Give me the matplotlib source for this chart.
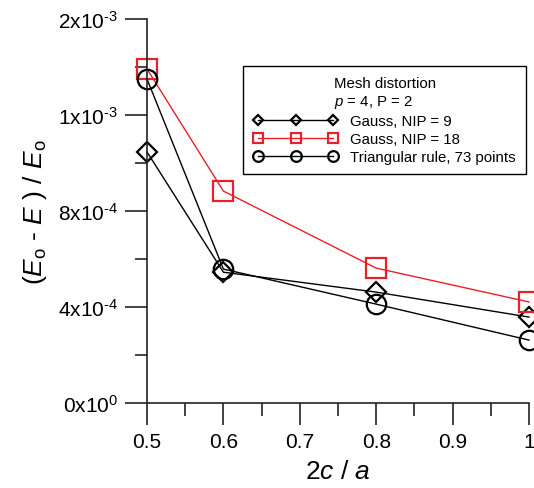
import matplotlib
matplotlib.use("Agg")
import matplotlib.pyplot as plt
from matplotlib.ticker import FixedLocator, FixedFormatter

plt.rcParams["font.family"] = "Liberation Sans"
plt.rcParams["mathtext.fontset"] = "custom"
plt.rcParams["mathtext.rm"] = "Liberation Sans"
plt.rcParams["mathtext.it"] = "Liberation Sans:italic"

# data
ratio = [0.5, 0.6, 0.8, 1.0]
gauss9 = [1.046e-3, 5.45e-4, 4.62e-4, 3.58e-4]
gauss18 = [1.392e-3, 8.83e-4, 5.62e-4, 4.21e-4]
tri73 = [1.35e-3, 5.58e-4, 4.12e-4, 2.62e-4]

yticks = [0, 4e-4, 8e-4, 1.2e-3, 1.6e-3]
ylabels = ["0x10$^{0}$", "4x10$^{\u20104}$", "8x10$^{\u20104}$",
           "1x10$^{\u20103}$", "2x10$^{\u20103}$"]
yminor = [2e-4, 6e-4, 1e-3, 1.4e-3]
xticks = [0.5, 0.6, 0.7, 0.8, 0.9, 1.0]
xlabels = ["0.5", "0.6", "0.7", "0.8", "0.9", "1"]
xminor = [0.55, 0.65, 0.75, 0.85, 0.95]

fig = plt.figure(figsize=(5.34, 4.89), dpi=100)
ax = fig.add_axes([147/534, 85/489, 382/534, 384/489])

ax.plot(ratio, gauss9, color="black", lw=1, marker="D", ms=10,
        mfc="none", mec="black", mew=1.6, clip_on=False,
        label="Gauss, NIP = 9")
ax.plot(ratio, gauss18, color="#e8202a", lw=1, marker="s", ms=14,
        mfc="none", mec="#e8202a", mew=1.6, clip_on=False,
        label="Gauss, NIP = 18")
ax.plot(ratio, tri73, color="black", lw=1, marker="o", ms=14,
        mfc="none", mec="black", mew=1.6, clip_on=False,
        label="Triangular rule, 73 points")

ax.set_xlim(0.5, 1.0)
ax.set_ylim(0, 1.6e-3)
ax.yaxis.set_major_locator(FixedLocator(yticks))
ax.yaxis.set_major_formatter(FixedFormatter(ylabels))
ax.yaxis.set_minor_locator(FixedLocator(yminor))
ax.xaxis.set_major_locator(FixedLocator(xticks))
ax.xaxis.set_major_formatter(FixedFormatter(xlabels))
ax.xaxis.set_minor_locator(FixedLocator(xminor))

for s in ["top", "right"]:
    ax.spines[s].set_visible(False)
for s in ["left", "bottom"]:
    ax.spines[s].set_linewidth(1.2)
    ax.spines[s].set_color("#222222")
ax.tick_params(which="major", direction="out", length=16, width=1.2,
               labelsize=15, pad=5, color="#222222")
ax.tick_params(which="minor", direction="out", length=9, width=1.2,
               color="#222222")

ax.set_xlabel(r"$\mathrm{2}c\ /\ a$", fontsize=19, labelpad=6)
ax.set_ylabel("$(E_{\\mathrm{o}}\\ \u2010\\ E\\ )\\ /\\ E_{\\mathrm{o}}$",
              fontsize=19, labelpad=6)

leg = ax.legend(title="Mesh distortion\n$p$ = 4, P = 2", loc="upper right",
                bbox_to_anchor=(0.992, 0.878), fontsize=10.8,
                title_fontsize=10.8, numpoints=3, markerscale=0.55,
                handlelength=5.6, handletextpad=0.8, labelspacing=0.27,
                borderpad=0.7, borderaxespad=0, fancybox=False,
                framealpha=1)
leg.get_frame().set_edgecolor("black")
leg.get_frame().set_linewidth(1.0)

fig.savefig("out.png", dpi=100)
